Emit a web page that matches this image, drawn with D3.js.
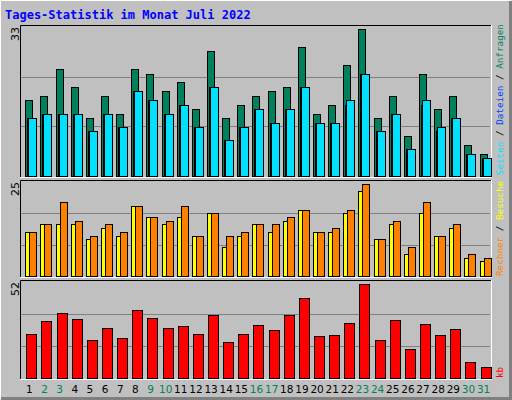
<!DOCTYPE html><html><head><meta charset="utf-8"><script src="https://cdn.jsdelivr.net/npm/d3@7"></script>
<style>body{margin:0;background:#fff}</style></head><body><svg id="c" width="512" height="400"></svg><script>
const days=d3.range(1,32);
const weekend=[2,3,9,10,16,17,23,24,30,31];
const anfragen=[17,18,24,20,13,18,14,24,23,19,21,15,28,13,16,18,19,20,29,14,16,25,33,13,18,9,23,15,18,7,5];
const dateien=[13,14,14,14,10,14,11,19,17,14,16,11,20,8,11,15,12,15,20,12,12,16,23,10,14,6,16,10,13,5,4];
const seiten=[13,14,14,14,10,14,11,19,17,14,16,11,20,8,11,15,12,15,20,12,12,17,23,10,14,6,17,11,13,5,4];
const besuche=[12,14,20,15,11,14,12,19,16,15,19,11,17,11,12,14,14,16,18,12,13,18,25,10,15,8,20,11,14,6,5];
const rechner=[12,14,14,14,10,13,11,19,16,14,16,11,17,8,11,14,12,15,18,12,12,17,23,10,14,6,17,11,13,5,4];
const kb=[24.2,31.6,36.1,32.7,20.8,27.6,21.9,37.8,33.3,27.6,28.7,24.2,35,19.7,24.2,29.3,26.5,35,44.1,23.1,23.6,30.4,52,20.8,32.1,16.3,29.9,23.6,27,8.9,6.1];
const svg=d3.select("#c");
svg.append("rect").attr("width",512).attr("height",400).attr("fill","#C0C0C0");
svg.append("path").attr("d","M0.5,399.5V0.5H511.5").attr("stroke","#fff").attr("fill","none");
svg.append("path").attr("d","M1,398.5H510.5V1").attr("stroke","#808080").attr("stroke-width",3).attr("fill","none");
svg.append("text").attr("x",5).attr("y",19).text("Tages-Statistik im Monat Juli 2022")
 .attr("font-family","DejaVu Sans Mono").attr("font-weight","bold").attr("font-size",12).attr("fill","#0000FF");
const x=d3.scaleBand().domain(days).range([20,490]).paddingInner(0).paddingOuter(0.02);
const L=20,R=491;
function panel(y0,y1,max,scaleTop,label){
  svg.append("rect").attr("x",L).attr("y",y0).attr("width",R-L).attr("height",y1-y0).attr("fill","#C0C0C0");
  svg.append("path").attr("d",`M${L+.5},${y1}V${y0+.5}H${R}`).attr("stroke","#000").attr("fill","none");
  svg.append("path").attr("d",`M${L},${y1+.5}H${R+.5}V${y0}`).attr("stroke","#fff").attr("fill","none");
  const y=d3.scaleLinear().domain([0,max]).range([y1-1,scaleTop]);
  const g=(y1-1-y0-2)/3;
  for(let i=1;i<3;i++) svg.append("line").attr("x1",L+1).attr("x2",R-1).attr("y1",Math.round(y1-1-g*i)+.5).attr("y2",Math.round(y1-1-g*i)+.5).attr("stroke","#808080");
  svg.append("text").attr("transform",`translate(19,${y0+2}) rotate(-90)`).attr("text-anchor","end").attr("font-family","DejaVu Sans").attr("font-size",11).text(label);
  return y;
}
function bars(y,vals,dx,w,col){
  svg.append("g").selectAll("rect").data(vals).join("rect")
   .attr("x",(d,i)=>Math.round(x(days[i]))+dx+.5).attr("y",d=>Math.round(y(d))+.5)
   .attr("width",w).attr("height",d=>Math.round(y(0)-y(d))).attr("fill",col).attr("stroke","#000");
}
const y1=panel(25,177,33,29,"33");
bars(y1,anfragen,5,7,"#00805C");bars(y1,dateien,7,9,"#0040FF");bars(y1,seiten,8,8,"#00E0FF");
const y2=panel(180,277,25,184,"25");
bars(y2,rechner,5,7,"#FFFF00");bars(y2,besuche,9,7,"#FF8000");
const y3=panel(280,379,52,284,"52");
bars(y3,kb,6,10,"#FF0000");
svg.append("g").selectAll("text").data(days).join("text")
 .attr("x",d=>x(d)+x.bandwidth()/2+1.5).attr("y",393).attr("text-anchor","middle")
 .attr("font-family","DejaVu Sans").attr("font-size",10.5).attr("fill",d=>weekend.includes(d)?"#00805C":"#000").text(d=>d);
const leg=[["Rechner","#FF8000"],[" / ","#000"],["Besuche","#FFFF00"],[" ","#000"],["Seiten","#00E0FF"],[" / ","#000"],["Dateien","#0040FF"],[" / ","#000"],["Anfragen","#00805C"]];
const t=svg.append("text").attr("transform","translate(503,276) rotate(-90)").attr("font-family","DejaVu Sans Mono").attr("font-size",9.3);
leg.forEach(([s,c])=>t.append("tspan").attr("fill",c).text(s));
svg.append("text").attr("transform","translate(503,378) rotate(-90)").attr("font-family","DejaVu Sans Mono").attr("font-size",9.3).attr("fill","#FF0000").text("kb");
</script></body></html>
